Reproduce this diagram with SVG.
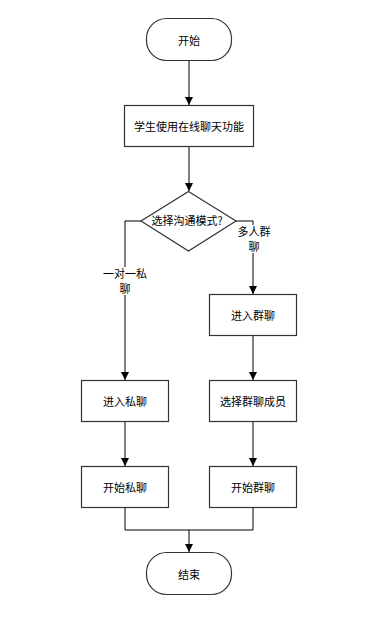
<svg xmlns="http://www.w3.org/2000/svg" width="375" height="620" viewBox="0 0 375 620">
<style>
.n{fill:#fff;stroke:#333;stroke-width:1.2}
.t{font-family:"Noto Sans CJK SC","Liberation Sans",sans-serif;font-size:11px;fill:#000;text-anchor:middle;dominant-baseline:central}
.c{fill:none;stroke:#000;stroke-width:1}
.lb{fill:#fff}
</style>
<defs>
<marker id="a" viewBox="0 0 8 8" refX="8" refY="4" markerWidth="8" markerHeight="8" markerUnits="userSpaceOnUse" orient="auto">
<path d="M0,0 L8,4 L0,8 z" fill="#000"/>
</marker>
</defs>
<rect width="375" height="620" fill="#fff"/>
<g id="connectors">
<path class="c" d="M189,61 V105" marker-end="url(#a)"/>
<path class="c" d="M189,147 V191" marker-end="url(#a)"/>
<path class="c" d="M141,221 H125 V380" marker-end="url(#a)"/>
<path class="c" d="M236,221 H253 V294" marker-end="url(#a)"/>
<path class="c" d="M253,336 V380" marker-end="url(#a)"/>
<path class="c" d="M125,422 V466" marker-end="url(#a)"/>
<path class="c" d="M253,422 V466" marker-end="url(#a)"/>
<path class="c" d="M125,508 V530 H253 V508"/>
<path class="c" d="M189,530 V552" marker-end="url(#a)"/>
<rect class="lb" x="236" y="225" width="35" height="28"/>
<text class="t" x="254" y="231">多人群<tspan x="254" dy="14.5">聊</tspan></text>
<rect class="lb" x="102" y="267" width="46" height="28"/>
<text class="t" x="125" y="273">一对一私<tspan x="125" dy="14.5">聊</tspan></text>
</g>
<g id="start">
<rect class="n" x="146.5" y="18.5" width="85" height="42" rx="20" ry="20"/>
<text class="t" x="189" y="40">开始</text>
</g>
<g id="use">
<rect class="n" x="124.5" y="105.5" width="129" height="41"/>
<text class="t" x="189" y="126">学生使用在线聊天功能</text>
</g>
<g id="choose">
<polygon class="n" points="188.5,191.5 236,221 188.5,251 141,221"/>
<text class="t" x="187" y="220">选择沟通模式?</text>
</g>
<g id="group">
<rect class="n" x="209.5" y="294.5" width="87" height="41"/>
<text class="t" x="253" y="315">进入群聊</text>
</g>
<g id="members">
<rect class="n" x="209.5" y="380.5" width="87" height="41"/>
<text class="t" x="253" y="401">选择群聊成员</text>
</g>
<g id="private">
<rect class="n" x="81.5" y="380.5" width="87" height="41"/>
<text class="t" x="125" y="401">进入私聊</text>
</g>
<g id="startprivate">
<rect class="n" x="81.5" y="466.5" width="87" height="41"/>
<text class="t" x="125" y="487">开始私聊</text>
</g>
<g id="startgroup">
<rect class="n" x="209.5" y="466.5" width="87" height="41"/>
<text class="t" x="253" y="487">开始群聊</text>
</g>
<g id="end">
<rect class="n" x="146.5" y="552.5" width="85" height="42" rx="20" ry="20"/>
<text class="t" x="189" y="574">结束</text>
</g>
</svg>
